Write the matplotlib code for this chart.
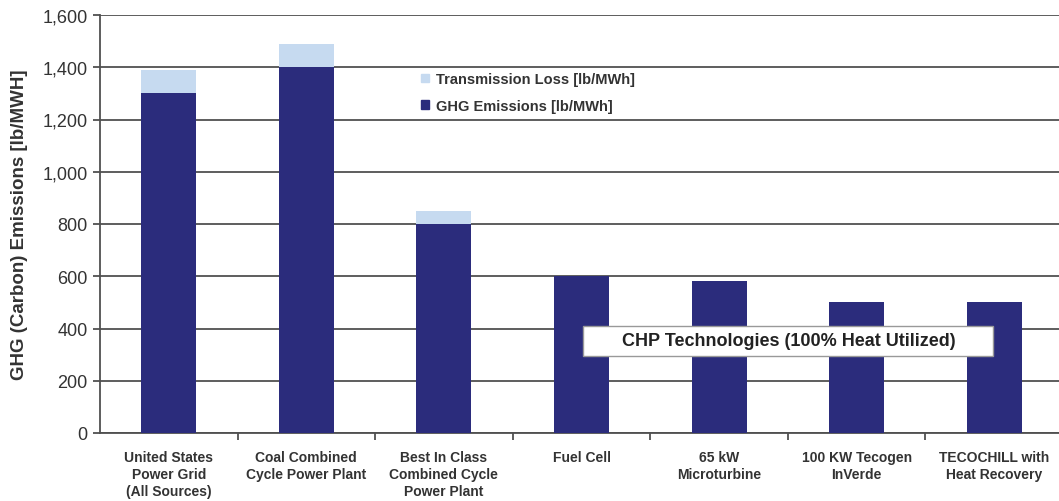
import matplotlib.pyplot as plt
from matplotlib.patches import Rectangle, Patch

plt.rcParams['font.family'] = ['Liberation Sans', 'DejaVu Sans']

categories = ["United States\nPower Grid\n(All Sources)", "Coal Combined\nCycle Power Plant",
              "Best In Class\nCombined Cycle\nPower Plant", "Fuel Cell", "65 kW\nMicroturbine",
              "100 KW Tecogen\nInVerde", "TECOCHILL with\nHeat Recovery"]
ghg = [1300, 1400, 800, 600, 580, 500, 500]
trans_loss = [90, 90, 50, 0, 0, 0, 0]

navy = "#2b2c7c"
light = "#c6daf0"

fig = plt.figure(figsize=(10.59, 5.02), dpi=100)
ax = fig.add_axes([100 / 1059, 1 - 434 / 502, 959 / 1059, 418 / 502])

x = list(range(len(categories)))
ax.bar(x, ghg, width=0.4, color=navy, zorder=3)
ax.bar(x, trans_loss, width=0.4, bottom=ghg, color=light, zorder=3)

ax.set_ylim(0, 1600)
ax.set_xlim(-0.5, 6.5 - 4 / 137.5)
ax.set_yticks(range(0, 1601, 200))
ax.set_yticklabels([f"{v:,}" for v in range(0, 1601, 200)], fontsize=13, color="#333333")
ax.yaxis.grid(True, color="#505050", linewidth=1.3, zorder=0)
ax.set_axisbelow(True)

ax.set_xticks(x)
ax.set_xticklabels(categories, fontsize=10, fontweight="bold", color="#333333", linespacing=1.3)
ax.tick_params(axis="x", which="major", length=0, pad=12)
ax.set_xticks([i + 0.5 for i in x[:-1]], minor=True)
ax.tick_params(axis="x", which="minor", length=5, color="#505050", width=1.3)
ax.tick_params(axis="y", length=5, color="#505050", width=1.3, pad=4)

for s in ["top", "right"]:
    ax.spines[s].set_visible(False)
ax.spines["left"].set_color("#505050")
ax.spines["left"].set_linewidth(1.3)
ax.spines["bottom"].set_color("#505050")
ax.spines["bottom"].set_linewidth(1.3)

ax.set_ylabel("GHG (Carbon) Emissions [lb/MWH]", fontsize=13.5, fontweight="bold", color="#333333", labelpad=10)

handles = [Patch(color=light, label="Transmission Loss [lb/MWh]"),
           Patch(color=navy, label="GHG Emissions [lb/MWh]")]
ax.legend(handles=handles, loc="upper left", bbox_to_anchor=(308 / 959, 1 - 44 / 418), frameon=False,
          prop={"weight": "bold", "size": 10.5}, handlelength=0.55, handleheight=0.55,
          handletextpad=0.45, labelspacing=0.85, labelcolor="#333333")

# CHP annotation box
x0 = (583 - 100) / 137.5 - 0.5
x1 = (993 - 100) / 137.5 - 0.5
y0 = (434 - 357) * 1600 / 418
y1 = (434 - 327) * 1600 / 418
ax.add_patch(Rectangle((x0, y0), x1 - x0, y1 - y0, facecolor="white", edgecolor="#999999",
                       linewidth=1, zorder=4))
ax.text((x0 + x1) / 2, (y0 + y1) / 2, "CHP Technologies (100% Heat Utilized)", ha="center", va="center",
        fontsize=13, fontweight="bold", color="#222222", zorder=5)

fig.savefig("out.png", dpi=100)
